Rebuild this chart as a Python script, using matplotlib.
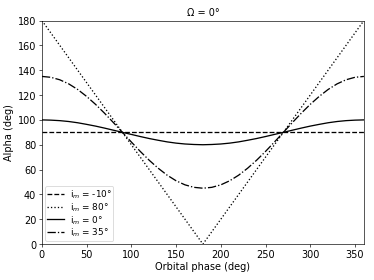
import matplotlib
matplotlib.use("Agg")
import matplotlib.pyplot as plt

phase = list(range(0, 361, 10))

half_35 = [135, 134.3, 132.3, 129.0, 124.5, 118.9, 112.5, 105.4, 97.8, 90,
           82.2, 74.6, 67.5, 61.1, 55.5, 51.0, 47.7, 45.7, 45]
half_0 = [100, 99.8, 99.4, 98.7, 97.7, 96.4, 95.0, 93.4, 91.7, 90,
          88.3, 86.6, 85.0, 83.6, 82.3, 81.3, 80.6, 80.2, 80]
half_80 = [180, 170, 160, 150, 140, 130, 120, 110, 100, 90,
           80, 70, 60, 50, 40, 30, 20, 10, 0]

alpha_m10 = [90] * 37
alpha_80 = half_80 + half_80[-2::-1]
alpha_0 = half_0 + half_0[-2::-1]
alpha_35 = half_35 + half_35[-2::-1]

labels = ["i$_m$ = -10°", "i$_m$ = 80°", "i$_m$ = 0°", "i$_m$ = 35°"]

plt.rcParams['font.size'] = 12
fig = plt.figure(figsize=(6.4, 4.8), dpi=374 / 6.4)
ax = fig.add_axes([0.112, 0.128, 0.861, 0.797])
lw = 1.6
ax.plot(phase, alpha_m10, "k--", lw=lw, label=labels[0])
ax.plot(phase, alpha_80, "k:", lw=lw, label=labels[1])
ax.plot(phase, alpha_0, "k-", lw=lw, label=labels[2])
ax.plot(phase, alpha_35, "k-.", lw=lw, label=labels[3])
ax.set_xlim(0, 360)
ax.set_ylim(0, 180)
ax.set_xlabel("Orbital phase (deg)", labelpad=2)
ax.set_ylabel("Alpha (deg)")
ax.set_title("Ω = 0°", fontsize=12)
ax.legend(loc="lower left", fontsize=11, handlelength=1.9, labelspacing=0.02,
          borderpad=0.2, handletextpad=0.6, borderaxespad=0.4)
fig.savefig("out.png", dpi=374 / 6.4)
